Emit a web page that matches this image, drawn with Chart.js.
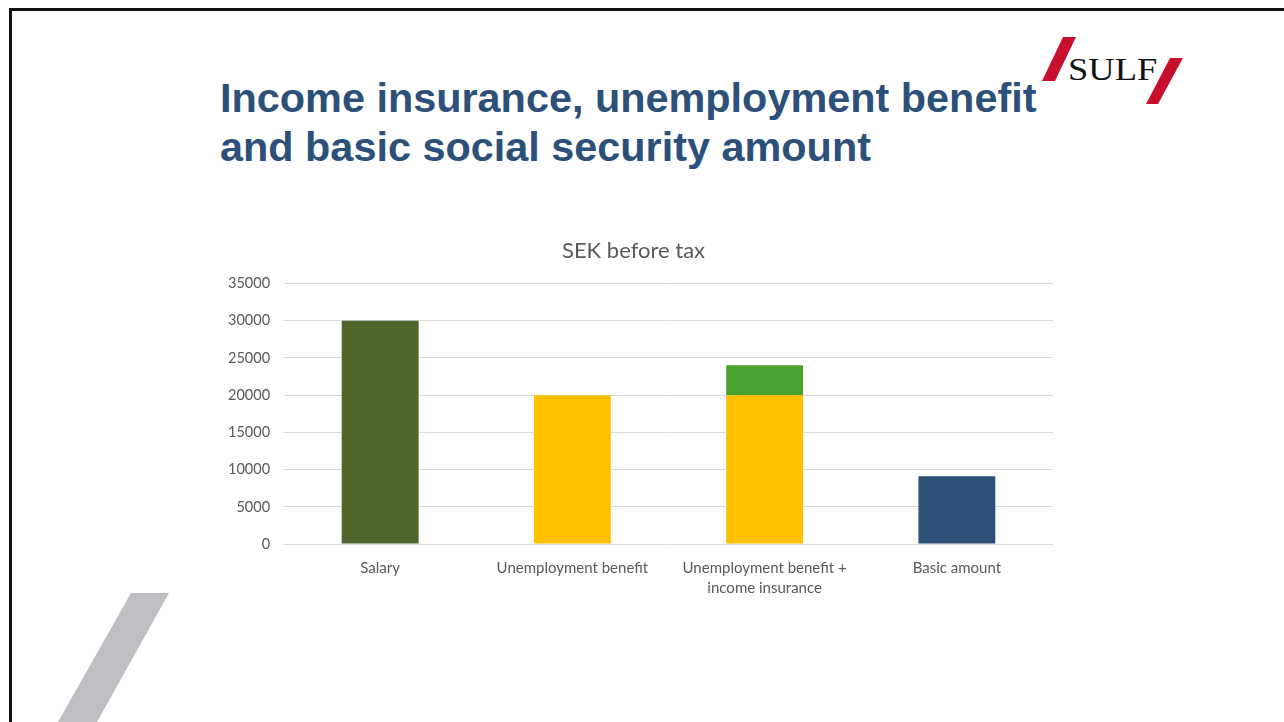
<!DOCTYPE html>
<html>
<head>
<meta charset="utf-8">
<script src="https://cdn.jsdelivr.net/npm/chart.js@4"></script>
<style>
    html, body { margin: 0; padding: 0; background: #fff; }
    body { width: 1284px; height: 722px; position: relative; overflow: hidden; }
    .frame { position: absolute; left: 9px; top: 8px; right: -10px; bottom: -10px;
             border-left: 3px solid #111; border-top: 3px solid #111; }
    h1 { position: absolute; left: 220px; top: 74px; margin: 0;
         font-family: "Liberation Sans", Arial, sans-serif; font-weight: bold;
         font-size: 41.4px; line-height: 49px; color: #2C5079; }
    .slash { position: absolute; background: #C8102E; }
    .logo-text { position: absolute; left: 1068px; top: 51px;
                 font-family: "Liberation Serif", serif; font-size: 32px; color: #111;
                 transform: scaleX(1.14); transform-origin: left top; }
    .grey { position: absolute; left: 0; top: 0; width: 1284px; height: 722px;
            background: #BFBEC3; clip-path: polygon(131px 593px, 169px 593px, 97px 722px, 58px 722px); }
    .chart-box { position: absolute; left: 214px; top: 236px; width: 853px; height: 368px; }
</style>
</head>
<body>
<div class="frame"></div>
<h1>Income insurance, unemployment benefit<br>and basic social security amount</h1>
<div class="slash" style="left:1042px;top:37px;width:34px;height:44px;clip-path:polygon(21px 0,34px 0,13px 44px,0 44px)"></div>
<div class="logo-text">SULF</div>
<div class="slash" style="left:1146px;top:58px;width:37px;height:46px;clip-path:polygon(24px 0,37px 0,12px 46px,0 46px)"></div>
<div class="grey"></div>
<div class="chart-box"><canvas id="chartSek"></canvas></div>

<script>
    const categories = ['Salary', 'Unemployment benefit', ['Unemployment benefit +', 'income insurance'], 'Basic amount'];
    const baseValues = [30000, 20000, 20000, 9100];
    const insuranceValues = [null, null, 4000, null];
    const baseColors = ['#4E6629', '#FFC000', '#FFC000', '#2C5077'];
    const yTicks = [0, 5000, 10000, 15000, 20000, 25000, 30000, 35000];

    const chartSek = document.getElementById('chartSek');
    const textColor = '#595959';
    const font = 'Lato, "Open Sans", sans-serif';

    new Chart(chartSek, {
        type: 'bar',
        data: {
            labels: categories,
            datasets: [
                {
                    label: 'amount',
                    data: baseValues,
                    backgroundColor: baseColors,
                    barPercentage: 0.4,
                    categoryPercentage: 1.0
                },
                {
                    label: 'income insurance',
                    data: insuranceValues,
                    backgroundColor: '#48A22E',
                    barPercentage: 0.4,
                    categoryPercentage: 1.0
                }
            ]
        },
        options: {
            responsive: true,
            maintainAspectRatio: false,
            animation: false,
            layout: { padding: { left: 0, right: 14, top: 0, bottom: 0 } },
            plugins: {
                legend: { display: false },
                tooltip: { enabled: false },
                title: {
                    display: true,
                    text: 'SEK before tax',
                    color: textColor,
                    font: { family: font, size: 22, weight: 'normal' },
                    padding: { top: 2, bottom: 19 }
                }
            },
            scales: {
                x: {
                    stacked: true,
                    grid: { display: false },
                    border: { display: false },
                    ticks: {
                        color: textColor,
                        font: { family: font, size: 15, lineHeight: 1.33 },
                        padding: 6,
                        maxRotation: 0
                    }
                },
                y: {
                    stacked: true,
                    min: 0,
                    max: 35000,
                    afterBuildTicks: function (axis) {
                        axis.ticks = yTicks.map(v => ({ value: v }));
                    },
                    grid: { color: '#D9D9D9', drawTicks: false, lineWidth: 1 },
                    border: { display: false },
                    ticks: {
                        color: textColor,
                        font: { family: font, size: 14.5 },
                        padding: 14,
                        callback: function (value) { return String(value); }
                    }
                }
            }
        }
    });
</script>
</body>
</html>
